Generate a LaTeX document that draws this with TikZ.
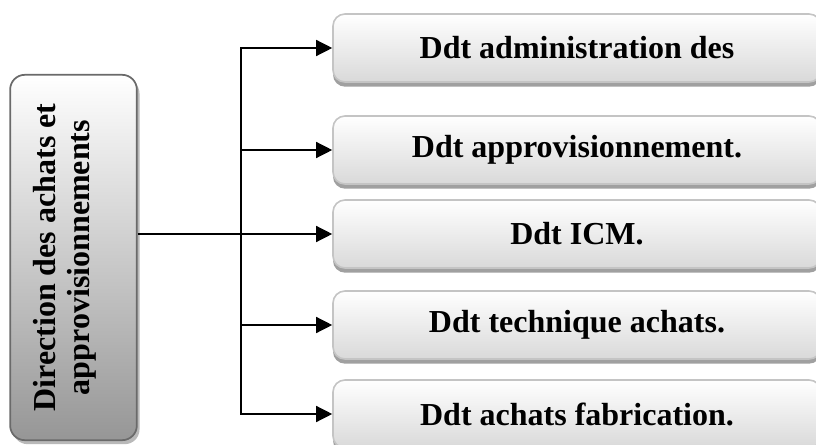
\documentclass[tikz,border=0pt]{standalone}
\usepackage{fontspec}
\setmainfont{Liberation Serif}
\usepackage{tikz}
\usetikzlibrary{arrows.meta, positioning, shadows}

\definecolor{boxline}{HTML}{C4C4C4}
\definecolor{boxshade}{HTML}{A0A0A0}
\definecolor{boxbottom}{HTML}{D9D9D9}
\definecolor{dirline}{HTML}{6A6A6A}
\definecolor{dirbottom}{HTML}{969696}

\begin{document}
\begin{tikzpicture}[x=0.75pt, y=-0.75pt,
    font=\fontsize{24}{25.5}\selectfont\bfseries,
    dept/.style={draw=boxline, line width=1.2pt, rounded corners=9pt, top color=white, bottom color=boxbottom,
      minimum width=366pt, minimum height=51pt,
      drop shadow={shadow xshift=0pt, shadow yshift=-3.5pt, fill=boxshade, opacity=1}},
    link/.style={-{Triangle[length=12pt, width=12pt]}, line width=1pt}]
  \clip (0,0) rectangle (816,445);

  % direction
  \node[draw=dirline, line width=1.3pt, rounded corners=11pt, top color=white, bottom color=dirbottom,
    minimum width=95pt, minimum height=274pt,
    drop shadow={shadow xshift=2pt, shadow yshift=-3pt, fill=gray!55, opacity=1}] (dir) at (73.5,257.5) {};
  \node[rotate=90, align=center] (dirtext) at ([xshift=-6.75pt]dir.center) {Direction des achats et\\approvisionnements};

  % departements
  \node[dept] (admin) at (577,48) {Ddt administration des};
  \node[dept] (appro) at (577,150) {Ddt approvisionnement.};
  \node[dept] (icm) at (577,234) {Ddt ICM.};
  \node[dept] (tech) at (577,325) {Ddt technique achats.};
  \node[dept] (fab) at (577,414) {Ddt achats fabrication.};

  \coordinate (hub) at (241,234);
  \draw[line width=1pt] (dir.east |- hub) -- (hub);
  \foreach \b in {admin, appro, icm, tech, fab}
    \draw[link] (hub) |- (\b.west);
\end{tikzpicture}
\end{document}
